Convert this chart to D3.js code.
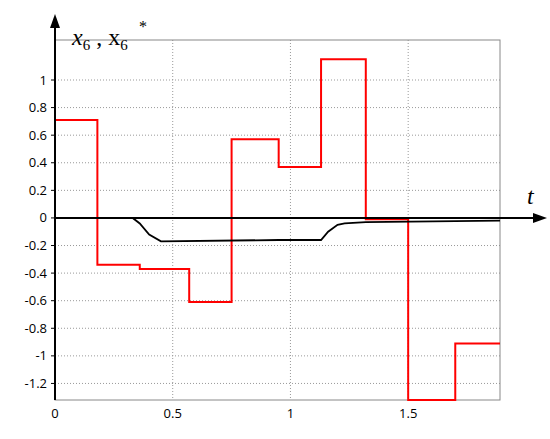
<!DOCTYPE html>
<html><head><meta charset="utf-8">
<script src="https://cdn.jsdelivr.net/npm/d3@7"></script>
<style>body{margin:0;background:#fff}</style></head>
<body><svg id="c" width="550" height="439"></svg>
<script>
const xTicks=[0,0.5,1,1.5];
const yTicks=[1,0.8,0.6,0.4,0.2,0,-0.2,-0.4,-0.6,-0.8,-1,-1.2];
const redT=[0,0.18,0.36,0.57,0.75,0.95,1.13,1.32,1.5,1.7,1.89];
const redV=[0.71,-0.34,-0.37,-0.61,0.57,0.37,1.15,-0.01,-1.32,-0.91];
const blkT=[0,0.33,0.36,0.40,0.45,0.95,1.13,1.16,1.20,1.23,1.32,1.89];
const blkV=[0,0,-0.04,-0.12,-0.17,-0.16,-0.16,-0.10,-0.05,-0.04,-0.03,-0.02];
const svg=d3.select("#c");
const x=d3.scaleLinear().domain([0,1.89]).range([55,500]);
const y=d3.scaleLinear().domain([-1.32,1.29]).range([400,40]);
const g=svg.append("g");
// grid
g.selectAll(".gx").data(xTicks.slice(1)).join("line").attr("x1",d=>x(d)).attr("x2",d=>x(d)).attr("y1",y(1.29)).attr("y2",y(-1.32)).attr("stroke","#999").attr("stroke-dasharray","1,2");
g.selectAll(".gy").data(yTicks).join("line").attr("x1",x(0)).attr("x2",x(1.89)).attr("y1",d=>y(d)).attr("y2",d=>y(d)).attr("stroke","#999").attr("stroke-dasharray","1,2");
g.append("rect").attr("x",x(0)).attr("y",y(1.29)).attr("width",x(1.89)-x(0)).attr("height",y(-1.32)-y(1.29)).attr("fill","none").attr("stroke","#888");
// ticks labels
g.selectAll(".tx").data(xTicks).join("text").attr("x",d=>x(d)).attr("y",418).attr("text-anchor","middle").attr("font-family","Open Sans, sans-serif").attr("font-size",13).text(d=>d);
g.selectAll(".ty").data(yTicks).join("text").attr("x",47).attr("y",d=>y(d)+4.5).attr("text-anchor","end").attr("font-family","Open Sans, sans-serif").attr("font-size",13).text(d=>d);
g.selectAll(".tk").data(yTicks).join("line").attr("x1",51).attr("x2",55).attr("y1",d=>y(d)).attr("y2",d=>y(d)).attr("stroke","#000");
// curves
const red=[];redV.forEach((v,i)=>{red.push([redT[i],v]);red.push([redT[i+1],v]);});
const line=d3.line().x(d=>x(d[0])).y(d=>y(d[1]));
g.append("path").attr("d",line(red)).attr("fill","none").attr("stroke","#f00").attr("stroke-width",2);
g.append("path").attr("d",line(blkT.map((t,i)=>[t,blkV[i]]))).attr("fill","none").attr("stroke","#000").attr("stroke-width",1.8);
// axes arrows
g.append("line").attr("x1",x(0)).attr("x2",540).attr("y1",y(0)).attr("y2",y(0)).attr("stroke","#000").attr("stroke-width",2);
g.append("path").attr("d",`M547,${y(0)} L533,${y(0)-5} L533,${y(0)+5}Z`).attr("fill","#000");
g.append("line").attr("x1",x(0)).attr("x2",x(0)).attr("y1",400).attr("y2",22).attr("stroke","#000").attr("stroke-width",2);
g.append("path").attr("d",`M${x(0)},14 L${x(0)-5},28 L${x(0)+5},28Z`).attr("fill","#000");
const lab=g.append("text").attr("x",72).attr("y",45).attr("font-family","Liberation Serif, serif").attr("font-style","italic").attr("font-size",24);
lab.append("tspan").text("x");lab.append("tspan").attr("font-size",15).attr("dy",5).attr("font-style","normal").text("6");
lab.append("tspan").attr("dy",-5).attr("font-style","normal").text(" , x");
lab.append("tspan").attr("font-size",15).attr("dy",5).attr("font-style","normal").text("6");
g.append("text").attr("x",139).attr("y",32).attr("font-family","Liberation Serif, serif").attr("font-size",16).text("*");
g.append("text").attr("x",527).attr("y",204).attr("font-family","Liberation Serif, serif").attr("font-style","italic").attr("font-size",24).text("t");
</script></body></html>
